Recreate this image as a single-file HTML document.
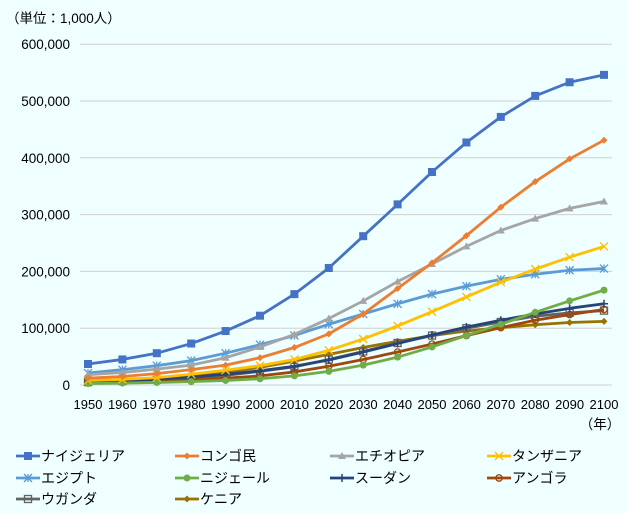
<!DOCTYPE html>
<html><head><meta charset="utf-8"><style>
body{margin:0;background:#effefe;}
svg{display:block;font-family:"Liberation Sans","Noto Sans CJK JP",sans-serif;}
</style></head><body>
<svg id="s" width="627" height="513" xmlns="http://www.w3.org/2000/svg"></svg>
<script>
const s=document.getElementById('s');
let h='<rect width="627" height="513" fill="#effefe"/>';
h+='<text x="6" y="23" font-size="13.5" fill="#000">（単位：1,000人）</text>';
const y0=385,dy=56.8/100;
const Y=v=>y0-v*dy, X=i=>88+34.4*i;
for(let k=0;k<=6;k++){const y=y0-k*56.8;h+=`<line x1="80" x2="612" y1="${y}" y2="${y}" stroke="#d0d0d0" stroke-width="1"/>`;
h+=`<text x="70" y="${y+5}" font-size="13.5">${''}</text><text x="70" y="${y+5}" font-size="13.5" text-anchor="end">${k==0?'0':(k*100)+',000'}</text>`;}
for(let i=0;i<16;i++)h+=`<text x="${X(i)}" y="409" font-size="13" text-anchor="middle">${1950+i*10}</text>`;
h+='<text x="600" y="429" font-size="13.5" text-anchor="middle">（年）</text>';
const S=[
["ナイジェリア","#4472C4","sq",[37,45,56,73,95,122,160,206,262,318,375,427,472,509,533,546]],
["コンゴ民","#ED7D31","dia",[12,15,20,27,35,48,66,90,125,170,215,263,313,358,398,431]],
["エチオピア","#A5A5A5","tri",[18,22,28,35,48,67,89,117,148,182,213,244,272,293,311,323]],
["タンザニア","#FFC000","x",[8,10,13,19,26,34,45,61,81,104,129,155,181,204,225,244]],
["エジプト","#5B9BD5","star",[21,27,34,43,56,71,87,107,125,143,160,174,186,195,202,205]],
["ニジェール","#70AD47","dot",[2.5,3.4,4.5,6,8,11,16,24,35,49,67,87,107,128,148,167]],
["スーダン","#264478","plus",[6,8,10,14,19,25,33,44,58,73,88,102,114,125,135,143]],
["アンゴラ","#9E480E","circ",[4.5,5.5,7,9,12,16,23,33,45,58,72,87,101,114,124,133]],
["ウガンダ","#636363","hsq",[5,7,9,12,17,24,32,45,59,74,87,100,111,121,127,131]],
["ケニア","#997300","dia",[6,8,11,16,23,31,42,54,66,77,87,95,101,106,110,112]]];
function mk(t,c,x,y){
 if(t=="sq")return `<rect x="${x-4}" y="${y-4}" width="8" height="8" fill="${c}"/>`;
 if(t=="hsq")return `<rect x="${x-3.5}" y="${y-3.5}" width="7" height="7" fill="none" stroke="${c}" stroke-width="1.3"/>`;
 if(t=="dia")return `<path d="M${x} ${y-3.5}L${x+3.5} ${y}L${x} ${y+3.5}L${x-3.5} ${y}Z" fill="${c}"/>`;
 if(t=="tri")return `<path d="M${x} ${y-4}L${x+4} ${y+3}L${x-4} ${y+3}Z" fill="${c}"/>`;
 if(t=="x")return `<path d="M${x-4} ${y-4}L${x+4} ${y+4}M${x-4} ${y+4}L${x+4} ${y-4}" stroke="${c}" stroke-width="1.3"/>`;
 if(t=="star")return `<path d="M${x-4} ${y-4}L${x+4} ${y+4}M${x-4} ${y+4}L${x+4} ${y-4}M${x} ${y-4}V${y+4}" stroke="${c}" stroke-width="1.3"/>`;
 if(t=="plus")return `<path d="M${x-4} ${y}H${x+4}M${x} ${y-4}V${y+4}" stroke="${c}" stroke-width="1.5"/>`;
 if(t=="dot")return `<circle cx="${x}" cy="${y}" r="3.5" fill="${c}"/>`;
 if(t=="circ")return `<circle cx="${x}" cy="${y}" r="3.2" fill="none" stroke="${c}" stroke-width="1.3"/>`;
}
for(let j=S.length-1;j>=0;j--){const [n,c,t,d]=S[j];
 h+=`<polyline points="${d.map((v,i)=>X(i)+','+Y(v)).join(' ')}" fill="none" stroke="${c}" stroke-width="2.8" stroke-linejoin="round"/>`;
 d.forEach((v,i)=>h+=mk(t,c,X(i),Y(v)));}
const cols=[16,146,276,406].map(v=>v),rows=[456,478,499];
const cx=[16,146+29,276+54,406+81];
S.forEach((a,j)=>{const x=cx[j%4],y=rows[Math.floor(j/4)];
 h+=`<line x1="${x}" x2="${x+24}" y1="${y}" y2="${y}" stroke="${a[1]}" stroke-width="2.8"/>`+mk(a[2],a[1],x+12,y);
 h+=`<text x="${x+25}" y="${y+5}" font-size="14">${a[0]}</text>`;});
s.innerHTML=h;
</script>
</body></html>
